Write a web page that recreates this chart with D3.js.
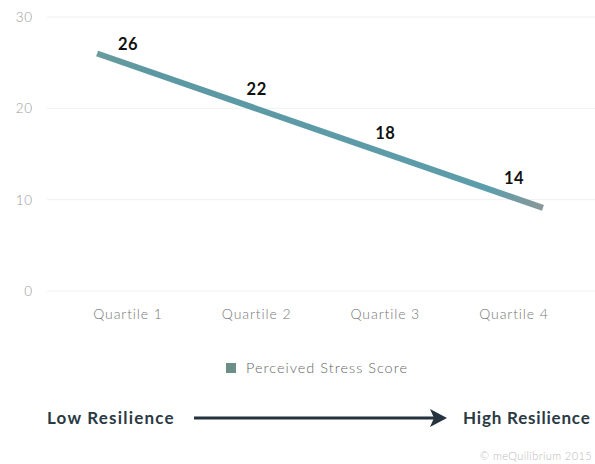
<!DOCTYPE html>
<html><head><meta charset="utf-8">
<script src="https://cdn.jsdelivr.net/npm/d3@7/dist/d3.min.js"></script>
<style>body{margin:0;background:#fff}svg{display:block}</style>
</head><body>
<script>
const categories = ["Quartile 1","Quartile 2","Quartile 3","Quartile 4"];
const stressScores = [26,22,18,14];
const yTicks = [0,10,20,30];
// straight trend line as drawn in the picture (x in quartile-index units)
const trendIndex = [-0.24, 3.225];
const trendValue = [26, 9.1];
const seriesName = "Perceived Stress Score";

const W=595,H=464;
const svg=d3.select("body").append("svg").attr("width",W).attr("height",H);
const x=d3.scaleLinear().domain([0,3]).range([128,514]);
const y=d3.scaleLinear().domain([0,30]).range([291,17]);

// grid
svg.append("g").selectAll("line").data(yTicks).join("line")
  .attr("x1",47).attr("x2",W).attr("y1",d=>y(d)).attr("y2",d=>y(d))
  .attr("stroke","#f0f0f0").attr("stroke-width",1);
svg.append("g").selectAll("text").data(yTicks).join("text")
  .attr("x",33).attr("y",d=>y(d)+5).attr("text-anchor","end")
  .attr("font-family","Lato").attr("font-weight",300).attr("font-size",13.5).attr("fill","#999")
  .attr("letter-spacing",0.8)
  .text(d=>d);

// category labels
svg.append("g").selectAll("text").data(categories).join("text")
  .attr("x",(d,i)=>x(i)).attr("y",319).attr("text-anchor","middle")
  .attr("font-family","Lato").attr("font-weight",300).attr("font-size",14).attr("fill","#777")
  .attr("letter-spacing",0.9)
  .text(d=>d);

// gradient for line
const defs=svg.append("defs");
const pts=trendIndex.map((t,i)=>[x(t),y(trendValue[i])]);
const grad=defs.append("linearGradient").attr("id","lg").attr("gradientUnits","userSpaceOnUse")
  .attr("x1",pts[0][0]).attr("y1",pts[0][1]).attr("x2",pts[1][0]).attr("y2",pts[1][1]);
grad.append("stop").attr("offset","0").attr("stop-color","#6a9c9c");
grad.append("stop").attr("offset","0.12").attr("stop-color","#5b98a2");
grad.append("stop").attr("offset","0.88").attr("stop-color","#5d9dab");
grad.append("stop").attr("offset","1").attr("stop-color","#8a9898");

const line=d3.line().x(d=>x(d[0])).y(d=>y(d[1]));
svg.append("path").datum(trendIndex.map((t,i)=>[t,trendValue[i]]))
  .attr("d",line).attr("fill","none").attr("stroke","url(#lg)").attr("stroke-width",6);

// value labels positioned just above the trend line
const slope=(trendValue[1]-trendValue[0])/(trendIndex[1]-trendIndex[0]);
const trendAt=i=>trendValue[0]+(i-trendIndex[0])*slope;
svg.append("g").selectAll("text").data(stressScores).join("text")
  .attr("x",(d,i)=>x(i)).attr("y",(d,i)=>y(trendAt(i))-14).attr("text-anchor","middle")
  .attr("font-family","Lato").attr("font-weight",700).attr("font-size",16.5).attr("fill","#111")
  .attr("letter-spacing",0.5)
  .text(d=>d);

// legend
svg.append("rect").attr("x",226).attr("y",363).attr("width",10).attr("height",10).attr("fill","#6b8e87");
svg.append("text").attr("x",246).attr("y",373).attr("font-family","Lato").attr("font-weight",300)
  .attr("font-size",14.5).attr("fill","#666").attr("letter-spacing",1).text(seriesName);

// bottom axis annotation
svg.append("text").attr("x",47).attr("y",424).attr("font-family","Lato").attr("font-weight",700)
  .attr("font-size",17).attr("fill","#2a3a44").attr("letter-spacing",1.2).text("Low Resilience");
svg.append("line").attr("x1",194).attr("x2",434).attr("y1",418).attr("y2",418)
  .attr("stroke","#24333d").attr("stroke-width",3);
svg.append("path").attr("d","M430,409 L447,418 L430,427 L434,418 Z").attr("fill","#24333d");
svg.append("text").attr("x",463).attr("y",424).attr("font-family","Lato").attr("font-weight",700)
  .attr("font-size",17).attr("fill","#2a3a44").attr("letter-spacing",0.8).text("High Resilience");
svg.append("text").attr("x",592).attr("y",460).attr("text-anchor","end").attr("font-family","Lato").attr("font-weight",300)
  .attr("font-size",11).attr("fill","#bbb").attr("letter-spacing",0.4).text("© meQuilibrium 2015");
</script>
</body></html>
